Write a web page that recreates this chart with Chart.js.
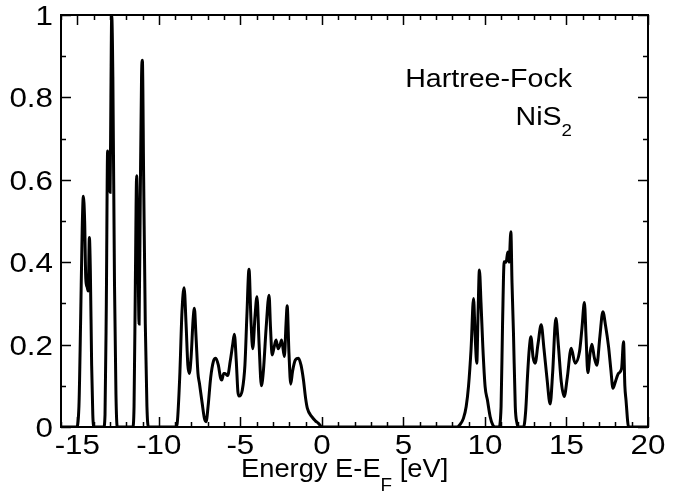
<!DOCTYPE html>
<html>
<head>
<meta charset="utf-8">
<script src="https://cdn.jsdelivr.net/npm/chart.js@4/dist/chart.umd.min.js"></script>
<style>
  body { margin: 0; background: #fff; }
</style>
</head>
<body>
<canvas id="doschart" width="688" height="498"></canvas>
<script>
// density of states of NiS2 (Hartree-Fock)

var energy = [
  -16, -15.05, -14.90, -14.80, -14.70, -14.63, -14.55, -14.48, -14.40, -14.33, -14.26, -14.20, -14.12, -14.05, -13.98,
  -13.38, -13.30, -13.22, -13.14, -13.05, -12.99, -12.94, -12.89, -12.82, -12.72, -12.63, -12.55,
  -11.60, -11.52, -11.44, -11.36, -11.30, -11.21, -11.14, -11.06, -11.01, -10.93, -10.83, -10.73, -10.64,
  -8.95, -8.87, -8.72, -8.58, -8.45, -8.33, -8.22, -8.13, -8.02, -7.90, -7.82, -7.72, -7.60, -7.51, -7.35,
  -7.20, -7.10, -6.98, -6.82, -6.65, -6.51, -6.35, -6.22, -6.14, -6.02, -5.94, -5.78, -5.62, -5.47, -5.37,
  -5.25, -5.15, -5.08, -4.88, -4.72, -4.60, -4.47, -4.35, -4.24, -4.10, -3.98, -3.85, -3.71, -3.58, -3.42,
  -3.24, -3.15, -3.05, -2.95, -2.81, -2.68, -2.56, -2.47, -2.30, -2.20, -2.13, -2.02, -1.91, -1.80, -1.62,
  -1.44, -1.28, -1.13, -1.00, -0.89, -0.62, -0.40, -0.21, 0.0,
  8.30, 8.45, 8.68, 8.85, 8.99, 9.15, 9.30, 9.40, 9.50, 9.58, 9.66, 9.76, 9.87, 10.01, 10.15, 10.32, 10.48, 10.63,
  10.85, 10.99, 11.08, 11.18, 11.30, 11.40, 11.48, 11.59, 11.66, 11.75, 11.86, 11.96, 12.06,
  12.37, 12.50, 12.62, 12.72, 12.82, 12.95, 13.08, 13.25, 13.45, 13.62, 13.80, 14.00, 14.15, 14.35, 14.50,
  14.68, 14.86, 15.05, 15.29, 15.53, 15.80, 15.95, 16.10, 16.20, 16.31, 16.45, 16.56, 16.70, 16.86, 17.05,
  17.23, 17.40, 17.58, 17.72, 17.85, 18.00, 18.19, 18.38, 18.50, 18.58, 18.65, 18.81, 20
];
var dos = [
  0, 0, 0.05, 0.25, 0.48, 0.56, 0.50, 0.36, 0.34, 0.33, 0.46, 0.38, 0.15, 0.03, 0,
  0, 0.03, 0.30, 0.67, 0.62, 0.57, 0.80, 1.00, 0.85, 0.35, 0.08, 0,
  0, 0.05, 0.35, 0.61, 0.50, 0.25, 0.55, 0.85, 0.89, 0.60, 0.25, 0.05, 0,
  0, 0.01, 0.12, 0.28, 0.338, 0.25, 0.15, 0.13, 0.17, 0.26, 0.288, 0.22, 0.13, 0.106, 0.06,
  0.02, 0.013, 0.05, 0.12, 0.16, 0.167, 0.15, 0.12, 0.114, 0.13, 0.13, 0.125, 0.16, 0.20, 0.225,
  0.16, 0.085, 0.075, 0.09, 0.15, 0.27, 0.383, 0.26, 0.19, 0.27, 0.316, 0.20, 0.10, 0.14, 0.24,
  0.32, 0.24, 0.175, 0.19, 0.211, 0.19, 0.20, 0.211, 0.171, 0.25, 0.294, 0.18, 0.104, 0.135, 0.163,
  0.167, 0.15, 0.114, 0.07, 0.045, 0.025, 0.015, 0.009, 0,
  0, 0.005, 0.021, 0.05, 0.098, 0.19, 0.312, 0.22, 0.155, 0.28, 0.381, 0.30, 0.195, 0.098, 0.066, 0.025, 0.005, 0,
  0, 0.05, 0.25, 0.401, 0.40, 0.425, 0.40, 0.474, 0.35, 0.227, 0.05, 0.01, 0,
  0, 0.04, 0.13, 0.19, 0.219, 0.17, 0.155, 0.20, 0.248, 0.19, 0.12, 0.056, 0.13, 0.264, 0.20,
  0.11, 0.074, 0.12, 0.191, 0.155, 0.183, 0.24, 0.302, 0.22, 0.132, 0.18, 0.201, 0.17, 0.15, 0.22,
  0.28, 0.245, 0.195, 0.14, 0.094, 0.11, 0.13, 0.142, 0.207, 0.10, 0.066, 0, 0
];

var xTickLabels = [-15, -10, -5, 0, 5, 10, 15, 20];
var yTickLabels = [0, 0.2, 0.4, 0.6, 0.8, 1];

var FONT = "'Liberation Sans', Arial, sans-serif";

function stretched_text(ctx, txt, x, y, size, align, sx) {
    // draw text widened by sx, x is left/right/center depending on align
    ctx.font = size + "px " + FONT;
    var w = ctx.measureText(txt).width * sx;
    var left = x;
    if (align == "right") left = x - w;
    if (align == "center") left = x - w / 2;
    ctx.save();
    ctx.translate(left, y);
    ctx.scale(sx, 1);
    ctx.textAlign = "left";
    ctx.textBaseline = "alphabetic";
    ctx.fillText(txt, 0, 0);
    ctx.restore();
    return w;
}

function text_width(ctx, txt, size, sx) {
    ctx.font = size + "px " + FONT;
    return ctx.measureText(txt).width * sx;
}

var frame_plugin = {
    id: "frame",
    afterDraw: function(chart) {
        var ctx = chart.ctx;
        var a = chart.chartArea;
        var xs = chart.scales.x;
        var ys = chart.scales.y;
        ctx.save();
        ctx.strokeStyle = "#000";
        ctx.fillStyle = "#000";
        ctx.lineWidth = 2;
        ctx.strokeRect(a.left, a.top, a.right - a.left, a.bottom - a.top);

        // inward ticks on all four sides
        ctx.lineWidth = 1.5;
        ctx.beginPath();
        for (var v = -16; v <= 20; v++) {
            var px = Math.round(xs.getPixelForValue(v)) + 0.5;
            var len = (v % 5 == 0) ? 10 : 5;
            ctx.moveTo(px, a.bottom); ctx.lineTo(px, a.bottom - len);
            ctx.moveTo(px, a.top); ctx.lineTo(px, a.top + len);
        }
        for (var k = 0; k <= 10; k++) {
            var py = Math.round(ys.getPixelForValue(k / 10)) + 0.5;
            var len2 = (k % 2 == 0) ? 10 : 5;
            ctx.moveTo(a.left, py); ctx.lineTo(a.left + len2, py);
            ctx.moveTo(a.right, py); ctx.lineTo(a.right - len2, py);
        }
        ctx.stroke();

        // tick labels
        xTickLabels.forEach(function(t) {
            stretched_text(ctx, String(t), xs.getPixelForValue(t), a.bottom + 27, 28, "center", 1.12);
        });
        yTickLabels.forEach(function(t) {
            stretched_text(ctx, String(t), a.left - 8, ys.getPixelForValue(t) + 10, 28, "right", 1.12);
        });

        // axis title with subscript
        var tx = 241, ty = 477;
        tx += stretched_text(ctx, "Energy E-E", tx, ty, 26, "left", 1.05);
        tx += stretched_text(ctx, "F", tx, ty + 14, 18, "left", 1.05);
        stretched_text(ctx, " [eV]", tx, ty, 26, "left", 1.05);

        // annotation
        stretched_text(ctx, "Hartree-Fock", 572, 87, 26, "right", 1.1);
        var w2 = text_width(ctx, "2", 17, 1.1);
        var wN = text_width(ctx, "NiS", 26, 1.1);
        stretched_text(ctx, "NiS", 572 - w2 - wN, 125, 26, "left", 1.1);
        stretched_text(ctx, "2", 572 - w2, 136, 17, "left", 1.1);
        ctx.restore();
    }
};

function main() {
    var points = energy.map(function(e, i) { return { x: e, y: dos[i] }; });
    new Chart(document.getElementById("doschart"), {
        type: "line",
        data: {
            datasets: [{
                data: points,
                borderColor: "#000",
                borderWidth: 3,
                pointRadius: 0,
                fill: false,
                cubicInterpolationMode: "monotone"
            }]
        },
        options: {
            responsive: false,
            animation: false,
            layout: { padding: { left: 61, right: 40, top: 15, bottom: 71 } },
            plugins: { legend: { display: false }, tooltip: { enabled: false } },
            scales: {
                x: { type: "linear", min: -16, max: 20, display: false },
                y: { type: "linear", min: 0, max: 1, display: false }
            }
        },
        plugins: [frame_plugin]
    });
}

main();
</script>
</body>
</html>
